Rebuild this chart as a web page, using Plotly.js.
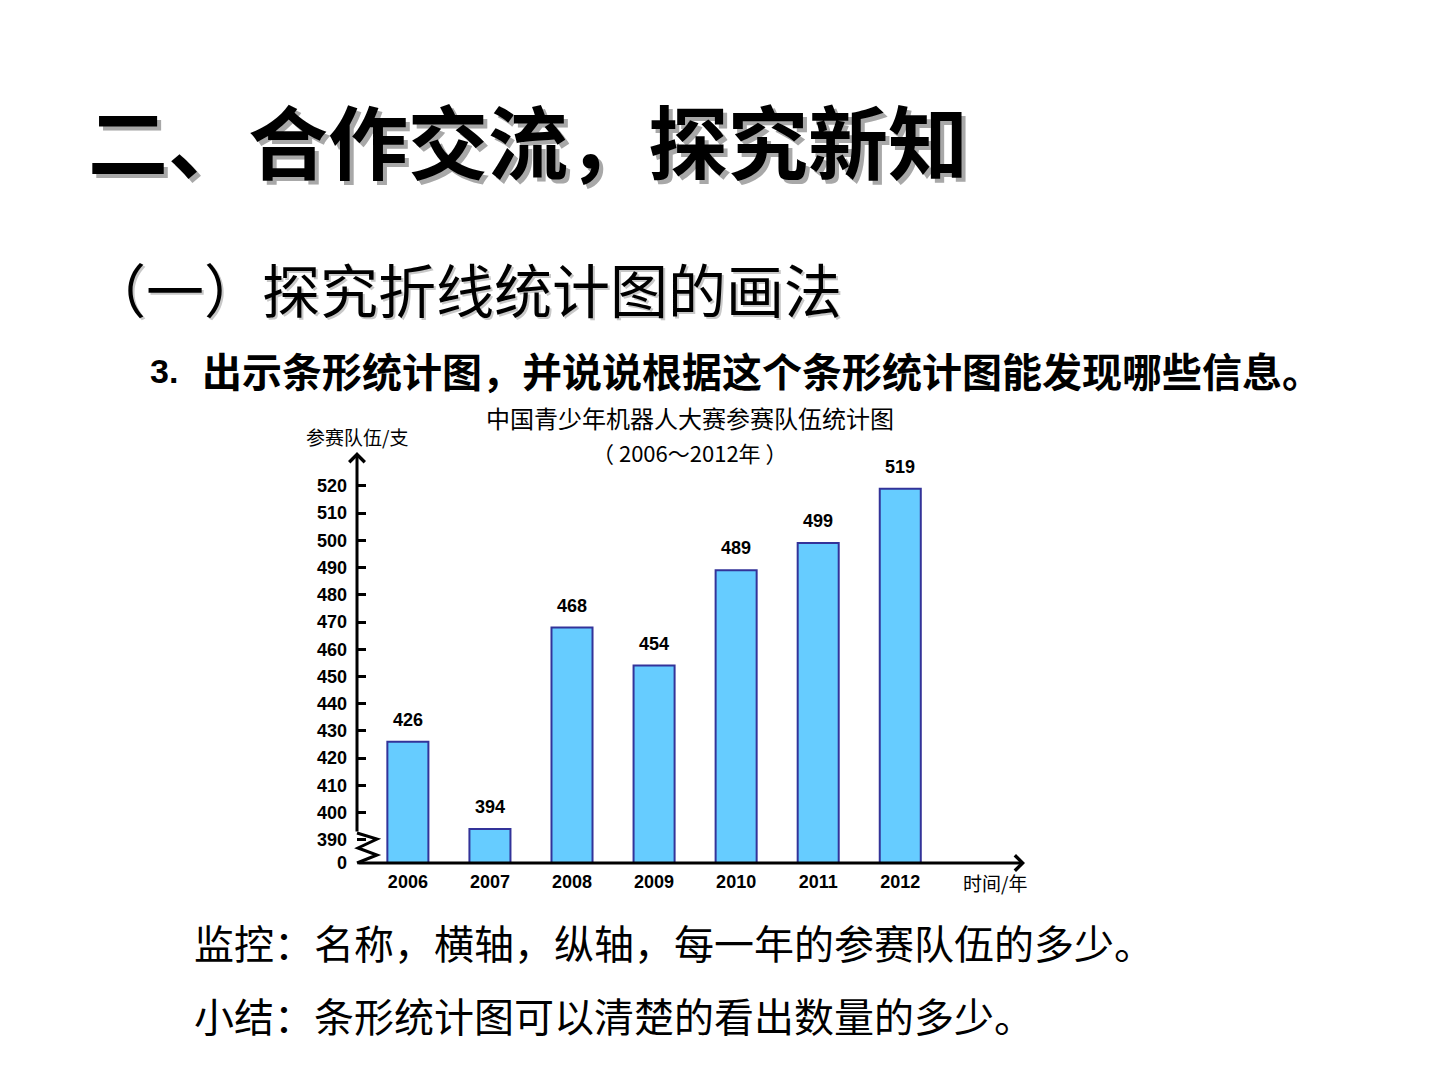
<!DOCTYPE html>
<html>
<head>
<meta charset="utf-8">
<script src="https://cdn.plot.ly/plotly-3.0.1.min.js"></script>
<style>
  html, body { margin: 0; padding: 0; background: #ffffff; }
  #chart { width: 1440px; height: 1080px; }
</style>
</head>
<body>
<div id="chart"></div>
<script>
// ---------- data ----------
const years = ['2006', '2007', '2008', '2009', '2010', '2011', '2012'];
const teams = [426, 394, 468, 454, 489, 499, 519];
const yTickVals = [390, 400, 410, 420, 430, 440, 450, 460, 470, 480, 490, 500, 510, 520];
const axisFloor = 381.5;   // value shown at the broken-axis baseline (labelled "0")
const axisTop = 533.2;

const chartTitle = '中国青少年机器人大赛参赛队伍统计图';
const chartSubtitle = '（ 2006～2012年 ）';
const yAxisTitle = '参赛队伍/支';
const xAxisTitle = '时间/年';
const slideTitle = '二、合作交流，探究新知';
const sectionTitle = '（一）探究折线统计图的画法';
const stepNum = '3.';
const stepText = '出示条形统计图，并说说根据这个条形统计图能发现哪些信息。';
const note1 = '监控：名称，横轴，纵轴，每一年的参赛队伍的多少。';
const note2 = '小结：条形统计图可以清楚的看出数量的多少。';

// ---------- geometry helpers (plot area in page pixels) ----------
const L = 357, R = 1025, T = 450, B = 863;
const px = x => (x - L) / (R - L);
const py = y => (B - y) / (B - T);

const CJK = 'Noto Sans CJK SC, sans-serif';
const LAT = 'Liberation Sans, Arial, sans-serif';

const tickVals = [axisFloor].concat(yTickVals);
const tickText = ['0'].concat(yTickVals.map(String));

const trace = {
  type: 'bar',
  x: years,
  y: teams,
  width: 0.5,
  marker: { color: '#66CCFF', line: { color: '#333399', width: 2 } },
  hoverinfo: 'x+y'
};

function txt(text, x, y, size, opts) {
  opts = opts || {};
  return Object.assign({
    text: text, xref: 'paper', yref: 'paper', x: px(x), y: py(y),
    xanchor: 'left', yanchor: 'middle', showarrow: false,
    font: { family: CJK, size: size, color: '#000000' }
  }, opts);
}

// value labels above bars, placed with the data axes (category index on x)
const valueLabels = years.map((yr, i) => ({
  text: String(teams[i]), xref: 'x', yref: 'y', x: i, y: teams[i],
  xanchor: 'center', yanchor: 'bottom', yshift: 10, showarrow: false,
  font: { family: LAT, size: 18, color: '#000000', weight: 'bold' }
}));

const annotations = [
  // slide title with shadow
  txt(slideTitle, 86, 138, 80, { font: { family: CJK, size: 80, color: '#000000', weight: 'bold', shadow: '4px 4px 0px #A8A8A8' } }),
  // section title
  txt(sectionTitle, 86, 288, 58, { font: { family: CJK, size: 58, color: '#000000', shadow: '2px 2px 0px #C8C8C8' } }),
  // step line
  txt(stepNum, 148, 371, 34, { font: { family: LAT, size: 34, color: '#000000', weight: 'bold' } }),
  txt(stepText, 200, 370, 40, { font: { family: CJK, size: 40, color: '#000000', weight: 'bold' } }),
  // notes
  txt(note1, 192, 942, 40),
  txt(note2, 192, 1015, 40),
  // chart titles
  txt(chartTitle, 690, 417, 24, { xanchor: 'center' }),
  txt(chartSubtitle, 690, 452, 22, { xanchor: 'center' }),
  txt(yAxisTitle, 357, 436, 19, { xanchor: 'center' }),
  txt(xAxisTitle, 995, 882, 19, { xanchor: 'center' }),
  // y axis arrow (tip at top of plot)
  {
    xref: 'paper', yref: 'paper', x: 0, y: py(452), ax: 0, ay: 833 - 452,
    text: '', showarrow: true, arrowhead: 4, arrowsize: 1, arrowwidth: 3,
    arrowcolor: '#000000', standoff: 0, startstandoff: 0
  },
  // x axis arrow
  {
    xref: 'paper', yref: 'paper', x: 1, y: 0, ax: -(R - L), ay: 0,
    text: '', showarrow: true, arrowhead: 4, arrowsize: 1, arrowwidth: 3,
    arrowcolor: '#000000', standoff: 0, startstandoff: 0
  }
].concat(valueLabels);

// broken-axis zigzag
const zz = [[357, 833], [377, 839], [358, 848], [377, 855], [357, 863]];
const zzPath = 'M ' + zz.map(p => px(p[0]) + ',' + py(p[1])).join(' L ');

const layout = {
  width: 1440,
  height: 1080,
  paper_bgcolor: '#ffffff',
  plot_bgcolor: '#ffffff',
  showlegend: false,
  margin: { l: L, r: 1440 - R, t: T, b: 1080 - B, pad: 0 },
  bargap: 0.5,
  xaxis: {
    type: 'category',
    range: [-0.62, 7.52],
    showline: false, showgrid: false, zeroline: false,
    ticks: '',
    tickfont: { family: LAT, size: 18, color: '#000000', weight: 'bold' },
    ticklabelstandoff: 6,
    fixedrange: true
  },
  yaxis: {
    range: [axisFloor, axisTop],
    showline: false, showgrid: false, zeroline: false,
    tickmode: 'array', tickvals: tickVals, ticktext: tickText,
    ticks: 'inside', ticklen: 9, tickwidth: 3, tickcolor: '#000000',
    tickfont: { family: LAT, size: 18, color: '#000000', weight: 'bold' },
    ticklabelstandoff: 9,
    fixedrange: true
  },
  shapes: [
    {
      type: 'path', xref: 'paper', yref: 'paper', path: zzPath,
      line: { color: '#000000', width: 3 }
    }
  ],
  annotations: annotations
};

Plotly.newPlot('chart', [trace], layout, { displayModeBar: false, staticPlot: true });
</script>
</body>
</html>
